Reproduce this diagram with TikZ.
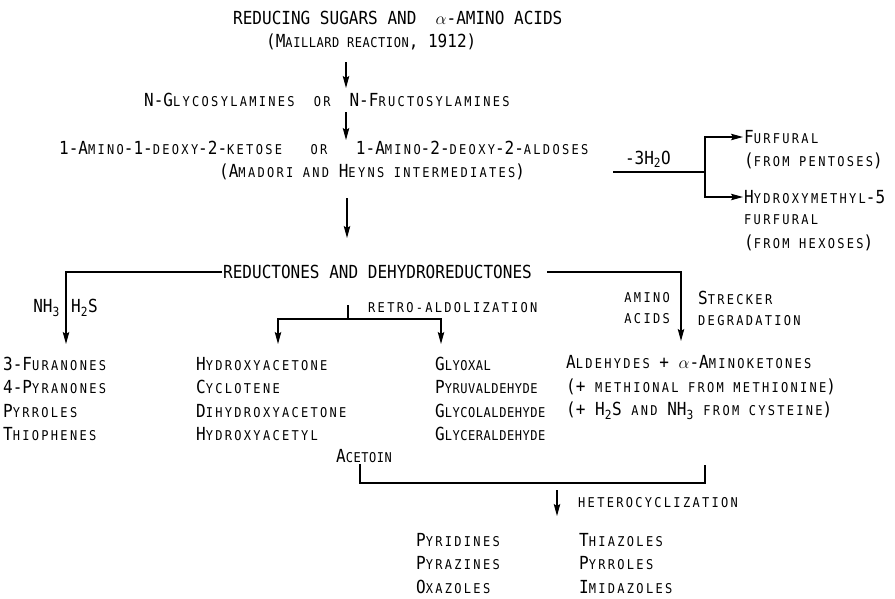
\documentclass[tikz,border=0pt]{standalone}
\usepackage{fontspec}
\setmainfont{DejaVu Sans Mono}[FakeStretch=0.89]
\newfontfamily\scfont{DejaVu Sans Mono}[FakeStretch=0.89, LetterSpace=17]
\newfontfamily\sctfont{DejaVu Sans Mono}[FakeStretch=0.89, LetterSpace=4]
\usepackage{tikz}
\usetikzlibrary{arrows.meta, positioning, calc}
\newcommand\sm[1]{{\fontsize{13.5}{23.5}\scfont\MakeUppercase{#1}}}
\newcommand\smt[1]{{\fontsize{13.5}{23.5}\sctfont\MakeUppercase{#1}}}
\tikzset{
  txt/.style={inner sep=1pt, font=\fontsize{18}{23.5}\selectfont, align=left},
  arr/.style={-{Stealth[length=12pt,width=6.5pt,inset=2pt]}, line width=1.2pt},
  ln/.style={line width=1.2pt}
}

\begin{document}
\begin{tikzpicture}[x=1pt, y=-1pt]
  \useasboundingbox (0,0) rectangle (895,598);
  % main chain
  \node[txt, anchor=west] (rsa) at (232,18) {REDUCING SUGARS AND \ $\alpha$-AMINO ACIDS};
  \node[txt, anchor=west] (mail) at (265,42) {(M\smt{aillard reaction}, 1912)};
  \node[txt, anchor=west] (glyc) at (143,100) {N-G\sm{lycosylamines \ or \ }N-F\sm{ructosylamines}};
  \node[txt, anchor=west] (amad) at (58,148) {1-A\sm{mino}-1-\sm{deoxy}-2-\sm{ketose \ \ or \ \ }1-A\sm{mino}-2-\sm{deoxy}-2-\sm{aldoses}};
  \node[txt, anchor=west] (inter) at (218,172) {(A\sm{madori and} H\sm{eyns intermediates})};
  \node[txt, anchor=west] (red) at (222,272) {REDUCTONES AND DEHYDROREDUCTONES};
  \coordinate (a1s) at (346,62);
  \coordinate (a1e) at (346,88);
  \coordinate (a2s) at (346,112);
  \coordinate (a2e) at (346,140);
  \coordinate (a3s) at (347,198);
  \coordinate (a3e) at (347,238);
  \draw[arr] (a1s) -- (a1e);
  \draw[arr] (a2s) -- (a2e);
  \draw[arr] (a3s) -- (a3e);
  % dehydration to furfurals
  \node[txt, anchor=west] (fur) at (743,137) {F\sm{urfural}};
  \node[txt, anchor=west] (pent) at (743,161) {(\sm{from pentoses})};
  \node[txt, anchor=west] (hmf) at (743,197) {H\sm{ydroxymethyl}-5};
  \node[txt, anchor=west] (hmf2) at (743,220) {\sm{furfural}};
  \node[txt, anchor=west] (hex) at (743,243) {(\sm{from hexoses})};
  \coordinate (dw) at (613,172);
  \coordinate (dh) at (705,172);
  \draw[ln] (dw) -- (dh) node[txt, pos=0.38, above=3pt] (wat) {-3H\textsubscript{2}O};
  \draw[arr] (dh) |- (fur.west);
  \draw[arr] (dh) |- (hmf.west);
  % branches from reductones
  \coordinate (k1) at (66,344);
  \coordinate (k4) at (681,341);
  \draw[arr] (red.west) -| (k1);
  \draw[arr] ([xshift=14pt]red.east) -| (k4);
  \node[txt, anchor=east] (nh) at (61,308) {NH\textsubscript{3}};
  \node[txt, anchor=west] (hs) at (70,308) {H\textsubscript{2}S};
  \node[txt, anchor=east, align=right] (amac) at (671,308) {\sm{amino}\\[-2.5pt]\sm{acids}};
  \node[txt, anchor=west] (str) at (697,308) {S\sm{trecker}\\[-2.5pt]\sm{degradation}};
  \coordinate (rt) at (348,305);
  \coordinate (rj) at (348,319);
  \coordinate (k2) at (278,344);
  \coordinate (k3) at (441,344);
  \draw[ln] (rt) -- (rj);
  \draw[arr] (rj) -| (k2);
  \draw[arr] (rj) -| (k3);
  \node[txt, anchor=west] (retro) at (367,308) {\sm{retro-aldolization}};
  % product columns
  \node[txt, anchor=west] (c1) at (2,399) {3-F\sm{uranones}\\4-P\sm{yranones}\\P\sm{yrroles}\\T\sm{hiophenes}};
  \node[txt, anchor=west] (c2) at (195,399) {H\sm{ydroxyacetone}\\C\sm{yclotene}\\D\sm{ihydroxyacetone}\\H\sm{ydroxyacetyl}};
  \node[txt, anchor=west] (c3) at (434,399) {G\smt{lyoxal}\\P\smt{yruvaldehyde}\\G\smt{lycolaldehyde}\\G\smt{lyceraldehyde}};
  \node[txt, anchor=west] (c4) at (565,387.5) {A\sm{ldehydes} + $\alpha$-A\sm{minoketones}\\(+ \sm{methional from methionine})\\(+ H\textsubscript{2}S \sm{and} NH\textsubscript{3} \sm{from cysteine})};
  % heterocyclization
  \node[txt, anchor=west] (acet) at (335,456) {A\smt{cetoin}};
  \coordinate (bl) at (360,483);
  \coordinate (br) at (705,483);
  \coordinate (bt) at (705,465);
  \draw[ln] (acet.south -| bl) -- (bl) -- (br) -- (bt);
  \coordinate (h1) at (557,490);
  \coordinate (h2) at (557,516);
  \draw[arr] (h1) -- (h2);
  \node[txt, anchor=west] (het) at (577,503) {\sm{heterocyclization}};
  \node[txt, anchor=west] (b1) at (415,563.5) {P\sm{yridines}\\P\sm{yrazines}\\O\sm{xazoles}};
  \node[txt, anchor=west] (b2) at (578,563.5) {T\sm{hiazoles}\\P\sm{yrroles}\\I\sm{midazoles}};
\end{tikzpicture}
\end{document}
